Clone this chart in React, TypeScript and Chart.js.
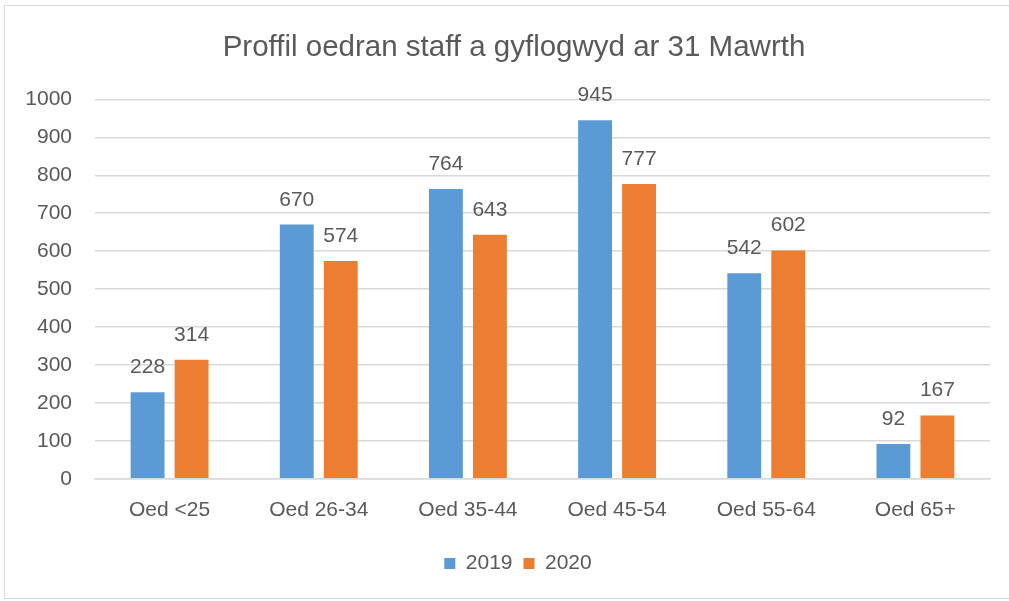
import React, { useEffect, useRef } from "react";
import { Chart, registerables } from "chart.js";

Chart.register(...registerables);

const title = "Proffil oedran staff a gyflogwyd ar 31 Mawrth";
const categories = ["Oed <25", "Oed 26-34", "Oed 35-44", "Oed 45-54", "Oed 55-64", "Oed 65+"];
const series2019 = [228, 670, 764, 945, 542, 92];
const series2020 = [314, 574, 643, 777, 602, 167];
const seriesNames = ["2019", "2020"];
const colors = ["#5B9BD5", "#ED7D31"];
const yMin = 0;
const yMax = 1000;
const yStep = 100;

const FONT = "'Liberation Sans', Arial, sans-serif";
const TEXT = "#595959";

const dataLabels = {
  id: "dataLabels",
  afterDatasetsDraw(chart: any) {
    const ctx = chart.ctx;
    ctx.save();
    ctx.font = `21px ${FONT}`;
    ctx.fillStyle = TEXT;
    ctx.textAlign = "center";
    ctx.textBaseline = "alphabetic";
    chart.data.datasets.forEach((ds: any, i: number) => {
      const meta = chart.getDatasetMeta(i);
      meta.data.forEach((el: any, j: number) => {
        ctx.fillText(String(ds.data[j]), el.x, el.y - 19);
      });
    });
    ctx.restore();
  },
};

const shiftBoxes = {
  id: "shiftBoxes",
  afterLayout(chart: any) {
    if (chart.legend) {
      chart.legend.left += 23;
      chart.legend.right += 23;
    }
    if (chart.titleBlock) {
      chart.titleBlock.left += 19;
      chart.titleBlock.right += 19;
    }
  },
};

export default function App() {
  const ref = useRef<HTMLCanvasElement | null>(null);
  useEffect(() => {
    document.body.style.margin = "0";
    if (!ref.current) return;
    const chart = new Chart(ref.current, {
      type: "bar",
      data: {
        labels: categories,
        datasets: [
          { label: seriesNames[0], data: series2019, backgroundColor: colors[0] },
          { label: seriesNames[1], data: series2020, backgroundColor: colors[1] },
        ],
      },
      options: {
        animation: false,
        responsive: false,
        layout: { padding: { left: 0, right: 19, top: 20, bottom: 17 } },
        datasets: { bar: { categoryPercentage: 0.59, barPercentage: 0.77 } },
        scales: {
          x: {
            grid: { display: false, drawTicks: false },
            border: { color: "#D9D9D9", width: 1.5 },
            ticks: { color: TEXT, font: { family: FONT, size: 21 }, padding: 19 },
          },
          y: {
            min: yMin,
            max: yMax,
            ticks: {
              stepSize: yStep,
              color: TEXT,
              font: { family: FONT, size: 21 },
              padding: 23,
              callback: (v: any) => String(v),
            },
            grid: { color: "#D9D9D9", lineWidth: 1.5, drawTicks: false },
            border: { display: false },
            afterFit: (s: any) => { s.width = 95; },
          },
        },
        plugins: {
          title: {
            display: true,
            text: title,
            color: TEXT,
            font: { family: FONT, size: 29.5, weight: "normal" },
            padding: { top: 10, bottom: 34 },
          },
          legend: {
            position: "bottom",
            labels: {
              color: TEXT,
              font: { family: FONT, size: 21 },
              boxWidth: 11,
              boxHeight: 11,
              padding: 11,
            },
          },
          tooltip: { enabled: false },
        },
      },
      plugins: [dataLabels, shiftBoxes],
    });
    return () => chart.destroy();
  }, []);
  return (
    <div style={{ position: "relative", width: 1009, height: 601, background: "#fff" }}>
      <canvas ref={ref} width={1009} height={601} style={{ display: "block" }} />
      <div
        style={{
          position: "absolute",
          left: 4,
          top: 5,
          width: 1010,
          height: 594,
          border: "1px solid #D9D9D9",
          boxSizing: "border-box",
          pointerEvents: "none",
        }}
      />
    </div>
  );
}
